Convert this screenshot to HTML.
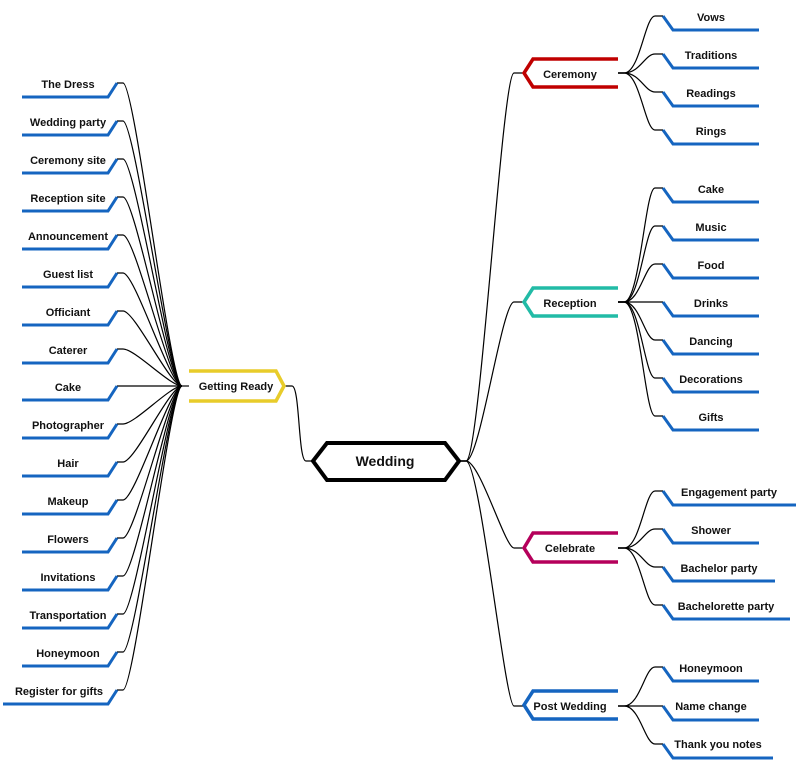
<!DOCTYPE html>
<html><head><meta charset="utf-8"><style>
html,body{margin:0;padding:0;background:#fff;width:800px;height:761px;overflow:hidden}
svg text{font-family:"Liberation Sans",Arial,sans-serif;font-weight:bold;font-size:11px;fill:#111}
</style></head><body>
<svg width="800" height="761" viewBox="0 0 800 761" xmlns="http://www.w3.org/2000/svg">
<g fill="none" stroke="#000" stroke-width="1.2">
<!-- left connectors -->
<path d="M117,83 L123,83 C135,83 170,386 182,386"/>
<path d="M117,121 L123,121 C135,121 170,386 182,386"/>
<path d="M117,159 L123,159 C135,159 170,386 182,386"/>
<path d="M117,197 L123,197 C135,197 170,386 182,386"/>
<path d="M117,235 L123,235 C135,235 170,386 182,386"/>
<path d="M117,273 L123,273 C135,273 170,386 182,386"/>
<path d="M117,311 L123,311 C135,311 170,386 182,386"/>
<path d="M117,349 L123,349 C135,349 170,386 182,386"/>
<path d="M117,386 L182,386"/>
<path d="M117,424 L123,424 C135,424 170,386 182,386"/>
<path d="M117,462 L123,462 C135,462 170,386 182,386"/>
<path d="M117,500 L123,500 C135,500 170,386 182,386"/>
<path d="M117,538 L123,538 C135,538 170,386 182,386"/>
<path d="M117,576 L123,576 C135,576 170,386 182,386"/>
<path d="M117,614 L123,614 C135,614 170,386 182,386"/>
<path d="M117,652 L123,652 C135,652 170,386 182,386"/>
<path d="M117,690 L123,690 C135,690 170,386 182,386"/>
<path d="M182,386 L189,386"/>
<!-- wedding links -->
<path d="M285,386 L292,386 C300,386 298,461 306,461 L312,461"/>
<path d="M460,461 L466,461 C480,461 502,73 514,73 L523,73"/>
<path d="M460,461 L466,461 C480,461 502,302 514,302 L523,302"/>
<path d="M460,461 L466,461 C480,461 505,548 514,548 L523,548"/>
<path d="M460,461 L466,461 C480,461 505,706 514,706 L523,706"/>
<!-- right hubs -->
<path d="M618,73 L624,73 C640,73 645,16 655,16 L663,16"/>
<path d="M618,73 L624,73 C640,73 645,54 655,54 L663,54"/>
<path d="M618,73 L624,73 C640,73 645,92 655,92 L663,92"/>
<path d="M618,73 L624,73 C640,73 645,130 655,130 L663,130"/>
<path d="M618,302 L624,302 C640,302 645,188 655,188 L663,188"/>
<path d="M618,302 L624,302 C640,302 645,226 655,226 L663,226"/>
<path d="M618,302 L624,302 C640,302 645,264 655,264 L663,264"/>
<path d="M618,302 L663,302"/>
<path d="M618,302 L624,302 C640,302 645,340 655,340 L663,340"/>
<path d="M618,302 L624,302 C640,302 645,378 655,378 L663,378"/>
<path d="M618,302 L624,302 C640,302 645,416 655,416 L663,416"/>
<path d="M618,548 L624,548 C640,548 645,491 655,491 L663,491"/>
<path d="M618,548 L624,548 C640,548 645,529 655,529 L663,529"/>
<path d="M618,548 L624,548 C640,548 645,567 655,567 L663,567"/>
<path d="M618,548 L624,548 C640,548 645,605 655,605 L663,605"/>
<path d="M618,706 L624,706 C640,706 645,667 655,667 L663,667"/>
<path d="M618,706 L663,706"/>
<path d="M618,706 L624,706 C640,706 645,744 655,744 L663,744"/>
</g>
<!-- left leaves -->
<g fill="none" stroke="#1565c0" stroke-width="3">
<path d="M117,83 L108,97 L22,97"/>
<path d="M117,121 L108,135 L22,135"/>
<path d="M117,159 L108,173 L22,173"/>
<path d="M117,197 L108,211 L22,211"/>
<path d="M117,235 L108,249 L22,249"/>
<path d="M117,273 L108,287 L22,287"/>
<path d="M117,311 L108,325 L22,325"/>
<path d="M117,349 L108,363 L22,363"/>
<path d="M117,386 L108,400 L22,400"/>
<path d="M117,424 L108,438 L22,438"/>
<path d="M117,462 L108,476 L22,476"/>
<path d="M117,500 L108,514 L22,514"/>
<path d="M117,538 L108,552 L22,552"/>
<path d="M117,576 L108,590 L22,590"/>
<path d="M117,614 L108,628 L22,628"/>
<path d="M117,652 L108,666 L22,666"/>
<path d="M117,690 L108,704 L3,704"/>
<!-- right leaves -->
<path d="M663,16 L673,30 L759,30"/>
<path d="M663,54 L673,68 L759,68"/>
<path d="M663,92 L673,106 L759,106"/>
<path d="M663,130 L673,144 L759,144"/>
<path d="M663,188 L673,202 L759,202"/>
<path d="M663,226 L673,240 L759,240"/>
<path d="M663,264 L673,278 L759,278"/>
<path d="M663,302 L673,316 L759,316"/>
<path d="M663,340 L673,354 L759,354"/>
<path d="M663,378 L673,392 L759,392"/>
<path d="M663,416 L673,430 L759,430"/>
<path d="M663,491 L673,505 L796,505"/>
<path d="M663,529 L673,543 L759,543"/>
<path d="M663,567 L673,581 L775,581"/>
<path d="M663,605 L673,619 L790,619"/>
<path d="M663,667 L673,681 L759,681"/>
<path d="M663,706 L673,720 L759,720"/>
<path d="M663,744 L673,758 L773,758"/>
</g>
<!-- branch shapes -->
<g fill="none" stroke-width="3.5">
<path d="M189,371 L276,371 L284,386 L276,401 L189,401" stroke="#e8cc2a"/>
<path d="M618,59 L533,59 L524,73 L533,87 L618,87" stroke="#c00000"/>
<path d="M618,288 L533,288 L524,302 L533,316 L618,316" stroke="#22bba6"/>
<path d="M618,533 L533,533 L524,548 L533,562 L618,562" stroke="#b5005b"/>
<path d="M618,691 L533,691 L524,705 L533,719 L618,719" stroke="#1565c0"/>
</g>
<path d="M313,461 L327,443 L445,443 L459,461 L445,480 L327,480 Z" fill="#fff" stroke="#000" stroke-width="4"/>
<text x="385" y="466" text-anchor="middle" style="font-size:14px">Wedding</text>
<g text-anchor="middle">
<text x="236" y="390">Getting Ready</text>
<text x="570" y="78">Ceremony</text>
<text x="570" y="307">Reception</text>
<text x="570" y="552">Celebrate</text>
<text x="570" y="710">Post Wedding</text>
<text x="68" y="88">The Dress</text>
<text x="68" y="126">Wedding party</text>
<text x="68" y="164">Ceremony site</text>
<text x="68" y="202">Reception site</text>
<text x="68" y="240">Announcement</text>
<text x="68" y="278">Guest list</text>
<text x="68" y="316">Officiant</text>
<text x="68" y="354">Caterer</text>
<text x="68" y="391">Cake</text>
<text x="68" y="429">Photographer</text>
<text x="68" y="467">Hair</text>
<text x="68" y="505">Makeup</text>
<text x="68" y="543">Flowers</text>
<text x="68" y="581">Invitations</text>
<text x="68" y="619">Transportation</text>
<text x="68" y="657">Honeymoon</text>
<text x="59" y="695">Register for gifts</text>
<text x="711" y="21">Vows</text>
<text x="711" y="59">Traditions</text>
<text x="711" y="97">Readings</text>
<text x="711" y="135">Rings</text>
<text x="711" y="193">Cake</text>
<text x="711" y="231">Music</text>
<text x="711" y="269">Food</text>
<text x="711" y="307">Drinks</text>
<text x="711" y="345">Dancing</text>
<text x="711" y="383">Decorations</text>
<text x="711" y="421">Gifts</text>
<text x="729" y="496">Engagement party</text>
<text x="711" y="534">Shower</text>
<text x="719" y="572">Bachelor party</text>
<text x="726" y="610">Bachelorette party</text>
<text x="711" y="672">Honeymoon</text>
<text x="711" y="710">Name change</text>
<text x="718" y="748">Thank you notes</text>
</g>
</svg>
</body></html>
